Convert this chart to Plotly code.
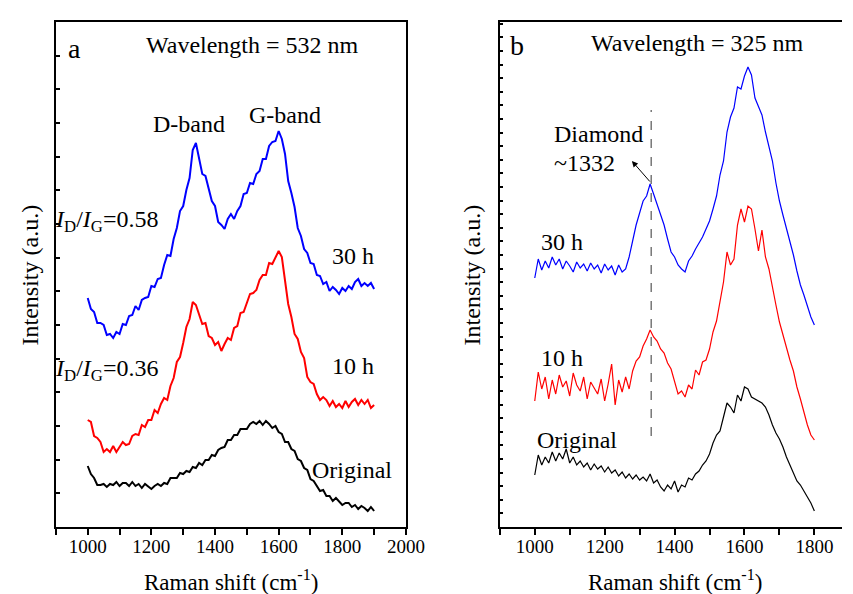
import plotly.graph_objects as go

# ---------------- Panel a (532 nm) ----------------
x_a = list(range(1000, 1901, 10))
y_a_30h = [229, 218, 215, 204, 204, 202, 192, 193, 189, 195, 193, 203, 202, 211, 212, 221, 217, 227, 229, 230,
           241, 240, 248, 249, 262, 272, 271, 288, 299, 316, 321, 337, 349, 377, 384, 369, 353, 351, 339, 326,
           321, 305, 302, 298, 308, 313, 308, 316, 321, 333, 334, 344, 343, 353, 356, 368, 368, 381, 385, 386,
           396, 388, 373, 346, 334, 320, 299, 291, 278, 274, 264, 263, 252, 251, 243, 245, 236, 240, 237, 233,
           239, 236, 241, 238, 245, 248, 241, 244, 241, 244, 238]
y_a_10h = [107, 105, 91, 89, 85, 75, 78, 75, 81, 75, 80, 85, 82, 83, 91, 93, 92, 102, 100, 107,
           107, 117, 114, 123, 129, 127, 141, 149, 165, 170, 184, 200, 208, 225, 222, 213, 203, 204, 191, 189,
           182, 185, 176, 183, 189, 187, 199, 201, 214, 215, 225, 233, 234, 237, 247, 252, 252, 264, 263, 270,
           276, 270, 246, 223, 210, 193, 188, 175, 169, 150, 145, 143, 133, 127, 130, 127, 121, 126, 120, 123,
           119, 126, 120, 125, 128, 122, 127, 123, 127, 119, 122]
y_a_orig = [61, 53, 49, 42, 42, 43, 40, 43, 42, 45, 41, 44, 44, 41, 45, 41, 43, 39, 43, 40,
            38, 41, 43, 41, 44, 43, 49, 49, 49, 54, 53, 56, 55, 60, 59, 64, 62, 67, 67, 72,
            71, 77, 79, 80, 87, 87, 92, 92, 98, 98, 98, 103, 105, 103, 106, 102, 106, 103, 99, 101,
            95, 93, 85, 85, 78, 76, 68, 66, 59, 57, 48, 46, 41, 36, 37, 31, 31, 26, 29, 25,
            22, 24, 24, 20, 22, 18, 21, 19, 16, 20, 16]

# ---------------- Panel b (325 nm) ----------------
x_b = list(range(1000, 1801, 10))
y_b_30h = [249, 268, 257, 266, 259, 270, 262, 268, 258, 266, 261, 255, 265, 259, 263, 256, 264, 258, 262, 254,
           263, 257, 261, 252, 262, 255, 258, 270, 286, 302, 314, 326, 331, 343, 333, 322, 311, 302, 288, 275,
           270, 262, 258, 255, 266, 271, 278, 284, 290, 298, 306, 318, 331, 352, 366, 395, 410, 419, 440, 438,
           451, 460, 452, 429, 421, 412, 395, 381, 366, 344, 326, 312, 299, 284, 272, 256, 242, 232, 220, 210,
           202]
y_b_10h = [126, 155, 138, 150, 128, 147, 133, 152, 140, 146, 131, 154, 142, 136, 150, 128, 145, 139, 133, 148,
           126, 143, 163, 122, 147, 135, 150, 138, 156, 166, 170, 181, 188, 197, 190, 186, 178, 174, 164, 158,
           146, 133, 136, 130, 142, 138, 157, 152, 165, 167, 178, 195, 206, 225, 245, 275, 262, 268, 302, 318,
           305, 321, 318, 298, 276, 297, 270, 258, 238, 222, 205, 192, 180, 167, 156, 140, 128, 114, 102, 92,
           87]
y_b_orig = [52, 72, 62, 70, 64, 75, 66, 74, 68, 78, 64, 70, 62, 66, 60, 64, 57, 63, 58, 61,
            55, 60, 54, 57, 51, 55, 49, 53, 48, 52, 47, 50, 46, 53, 44, 47, 40, 36, 42, 38,
            46, 35, 42, 40, 49, 47, 53, 56, 62, 66, 73, 84, 92, 96, 110, 124, 120, 114, 132, 126,
            140, 138, 130, 128, 126, 124, 120, 112, 102, 94, 88, 80, 70, 62, 54, 46, 42, 36, 31, 24,
            16]

diamond_x = 1333
diamond_line_y = [91, 417]

FONT = "Liberation Serif, Times New Roman, serif"
BLUE, RED, BLACK = "#0000FF", "#FF0000", "#000000"

fig = go.Figure()
for y, c in [(y_a_orig, BLACK), (y_a_10h, RED), (y_a_30h, BLUE)]:
    fig.add_trace(go.Scatter(x=x_a, y=y, mode="lines", line=dict(color=c, width=2.0),
                             xaxis="x", yaxis="y", showlegend=False))
for y, c in [(y_b_orig, BLACK), (y_b_10h, RED), (y_b_30h, BLUE)]:
    fig.add_trace(go.Scatter(x=x_b, y=y, mode="lines", line=dict(color=c, width=1.2),
                             xaxis="x2", yaxis="y2", showlegend=False))
fig.add_trace(go.Scatter(x=[diamond_x, diamond_x], y=diamond_line_y, mode="lines",
                         line=dict(color="#333333", width=1, dash="dash"),
                         xaxis="x2", yaxis="y2", showlegend=False))

W, H = 853, 594
top_px, bot_px = 14, 519
ydom = [1 - bot_px / H, 1 - top_px / H]

axis_common = dict(showline=True, linecolor="black", linewidth=1.5, showgrid=False, zeroline=False,
                   tickcolor="black", tickwidth=1.5,
                   tickfont=dict(family=FONT, size=19, color="black"))

fig.update_layout(
    width=W, height=H, margin=dict(l=0, r=0, t=0, b=0),
    plot_bgcolor="white", paper_bgcolor="white",
    font=dict(family=FONT, color="black"),
    xaxis=dict(domain=[49 / W, 407 / W], range=[900, 2000], anchor="y", mirror=True,
               ticks="outside", ticklen=6, dtick=200, tick0=1000, ticklabelstandoff=-5,
               minor=dict(dtick=100, ticks="outside", ticklen=6, tickcolor="black", tickwidth=1.5),
               **axis_common),
    yaxis=dict(domain=ydom, range=[0, 505], anchor="x", mirror=True,
               ticks="inside", ticklen=4, dtick=505 / 15, tick0=0, showticklabels=False,
               **axis_common),
    xaxis2=dict(domain=[503 / W, 1.0], range=[900, 1879], anchor="y2", mirror=True,
                ticks="outside", ticklen=6, dtick=200, tick0=1000, ticklabelstandoff=-5,
                minor=dict(dtick=100, ticks="outside", ticklen=6, tickcolor="black", tickwidth=1.5),
                **axis_common),
    yaxis2=dict(domain=ydom, range=[0, 505], anchor="x2", mirror=False,
                ticks="inside", ticklen=3, dtick=13.6, tick0=0, showticklabels=False,
                **axis_common),
)

def ann(text, x, y, xref="x", yref="y", size=24, xanchor="center", yanchor="middle", **kw):
    fig.add_annotation(text=text, x=x, y=y, xref=xref, yref=yref, showarrow=False,
                       xanchor=xanchor, yanchor=yanchor,
                       font=dict(family=FONT, size=size, color="black"), **kw)

# panel a texts
ann("a", 958, 479, size=28)
ann("Wavelength = 532 nm", 1518, 482)
ann("D-band", 1318, 403)
ann("G-band", 1620, 412)
ann("<i>I</i><sub>D</sub>/<i>I</i><sub>G</sub>=0.58", 46 / W, 1 - 213 / H, xref="paper", yref="paper",
    size=24, xanchor="left")
ann("<i>I</i><sub>D</sub>/<i>I</i><sub>G</sub>=0.36", 46 / W, 1 - 362 / H, xref="paper", yref="paper",
    size=24, xanchor="left")
ann("30 h", 1835, 271)
ann("10 h", 1835, 161)
ann("Original", 1832, 57)

# panel b texts
ann("b", 948, 482, xref="x2", yref="y2", size=28)
ann("Wavelength = 325 nm", 1465, 484, xref="x2", yref="y2")
ann("Diamond", 1050, 393, xref="x2", yref="y2", xanchor="left")
ann("~1332", 1050, 364, xref="x2", yref="y2", xanchor="left")
ann("30 h", 1079, 285, xref="x2", yref="y2")
ann("10 h", 1079, 169, xref="x2", yref="y2")
ann("Original", 1121, 87, xref="x2", yref="y2")

fig.add_annotation(x=1278, y=366, xref="x2", yref="y2", ax=1333, ay=344, axref="x2", ayref="y2",
                   showarrow=True, arrowhead=2, arrowsize=1.2, arrowwidth=1, arrowcolor="black", text="")

# axis titles
ann("Raman shift (cm<sup>-1</sup>)", 228 / W, 1 - 589 / H, xref="paper", yref="paper", yanchor="bottom",
    size=23)
ann("Raman shift (cm<sup>-1</sup>)", 682 / W, 1 - 589 / H, xref="paper", yref="paper", yanchor="bottom",
    size=23)
ann("Intensity (a.u.)", 23 / W, 1 - 267 / H, xref="paper", yref="paper", textangle=-90)
ann("Intensity (a.u.)", 475 / W, 1 - 267 / H, xref="paper", yref="paper", textangle=-90)

fig.write_html("out.html")
